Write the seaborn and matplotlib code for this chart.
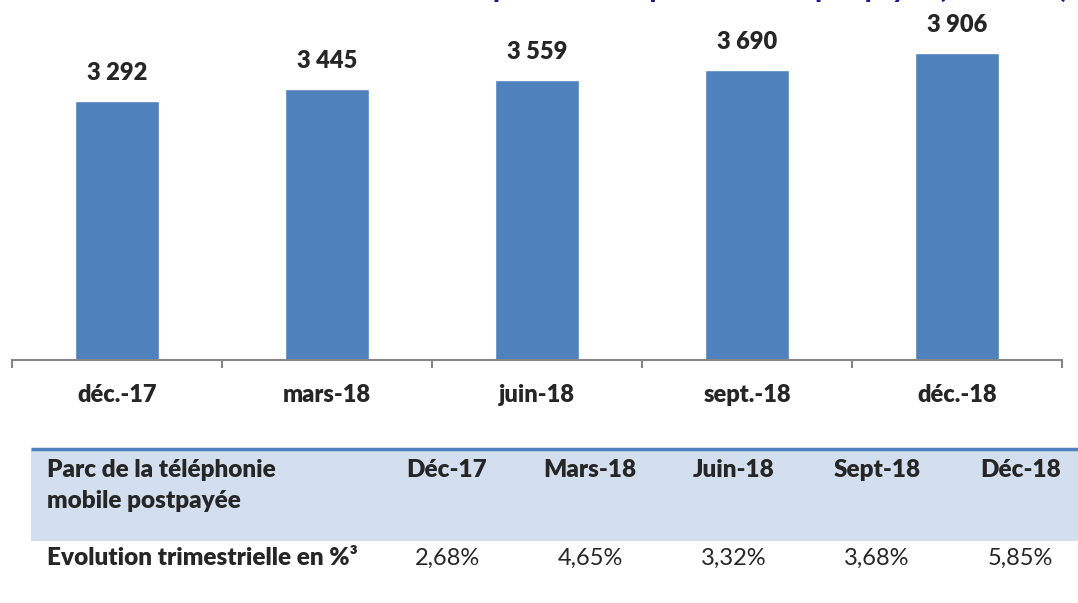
import matplotlib
matplotlib.use("Agg")
import matplotlib.pyplot as plt
import seaborn as sns
import pandas as pd

# donnees
periodes = ["déc.-17", "mars-18", "juin-18", "sept.-18", "déc.-18"]
parc = [3292, 3445, 3559, 3690, 3906]
etiquettes = ["3 292", "3 445", "3 559", "3 690", "3 906"]

table_titre = ["Parc de la téléphonie", "mobile postpayée"]
table_cols = ["Déc-17", "Mars-18", "Juin-18", "Sept-18", "Déc-18"]
evol_label = "Evolution trimestrielle en %³"
evol_pct = ["2,68%", "4,65%", "3,32%", "3,68%", "5,85%"]

titre = "Evolution du parc de la téléphonie mobile postpayée (en milliers)"

sns.set_style("white")
plt.rcParams["font.family"] = ["Lato", "DejaVu Sans"]

bleu = "#4F81BD"
gris = "#868686"
gras = "heavy"

df = pd.DataFrame({"periode": periodes, "parc": parc})

W, H = 1078, 603
fig = plt.figure(figsize=(W / 100, H / 100), dpi=100)

# graphique en barres
ax = fig.add_axes([12 / W, (H - 360) / H, 1050 / W, 354 / H])
sns.barplot(data=df, x="periode", y="parc", color=bleu, width=0.4,
            saturation=1, ax=ax)
ax.set_xlim(-0.5, len(periodes) - 0.5)
ax.set_ylim(0, 4500)
for i, (v, lab) in enumerate(zip(parc, etiquettes)):
    ax.annotate(lab, (i, v), xytext=(0, 12), textcoords="offset points",
                ha="center", va="bottom", fontsize=17, fontweight=gras)

for s in ["top", "right", "left"]:
    ax.spines[s].set_visible(False)
ax.spines["bottom"].set_color(gris)
ax.spines["bottom"].set_linewidth(1.5)
ax.set_yticks([])
ax.set_xlabel("")
ax.set_ylabel("")
ax.set_xticks(range(len(periodes)))
ax.set_xticklabels(periodes, fontsize=17, fontweight=gras)
ax.set_xticks([i - 0.5 for i in range(len(periodes) + 1)], minor=True)
ax.tick_params(axis="x", which="major", length=0, pad=17)
ax.tick_params(axis="x", which="minor", length=6, width=1.5, color=gris,
               direction="out", bottom=True)

# titre (coupe en haut de l'image, comme dans l'original)
fig.text(1068 / W, 1 + 2 / H, titre, ha="right", va="baseline",
         fontsize=18, fontweight=gras, color="#1a1a8c")

# tableau
tab = fig.add_axes([0, 0, 1, 1])
tab.set_xlim(0, W)
tab.set_ylim(H, 0)
tab.axis("off")
tab.axhspan(449, 541, xmin=31 / W, xmax=1, color="#D3DFEE", lw=0)
tab.plot([31, W], [449, 449], color=bleu, lw=2.5, solid_capstyle="butt")
tab.text(47, 477, table_titre[0], fontsize=17.5, fontweight=gras,
         va="baseline")
tab.text(47, 508, table_titre[1], fontsize=17.5, fontweight=gras,
         va="baseline")
tab.text(47, 565, evol_label, fontsize=17.5, fontweight=gras,
         va="baseline")
for i, (c, p) in enumerate(zip(table_cols, evol_pct)):
    x = 447 + 143.3 * i
    tab.text(x, 477, c, fontsize=17.5, fontweight=gras, ha="center",
             va="baseline")
    tab.text(x, 565, p, fontsize=17, ha="center", va="baseline")

fig.savefig("out.png", dpi=100)
